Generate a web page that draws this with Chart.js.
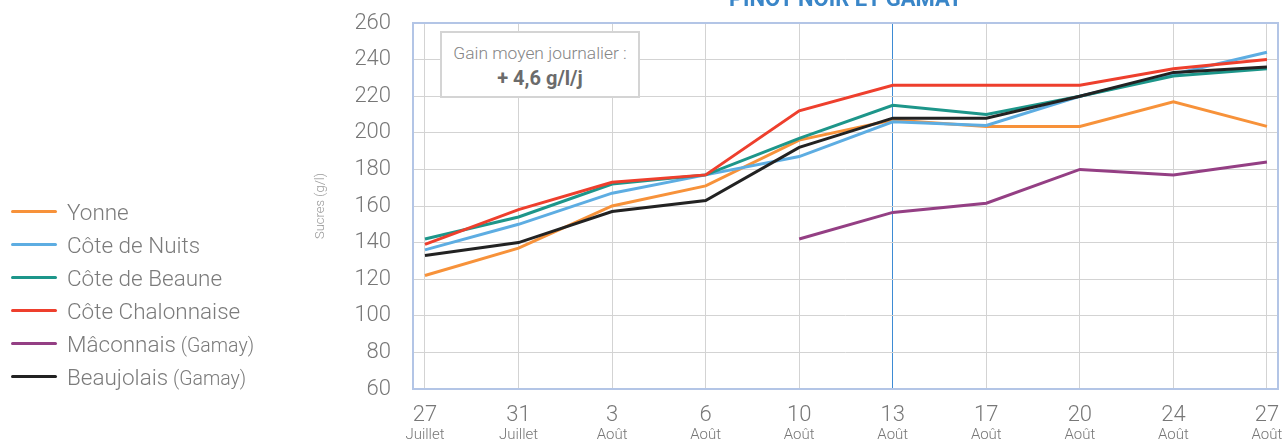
<!DOCTYPE html>
<html lang="fr">
<head>
<meta charset="utf-8">
<title>Pinot noir et Gamay – sucres</title>
<script src="https://cdn.jsdelivr.net/npm/chart.js@4.4.1/dist/chart.umd.min.js"></script>
<style>
  html, body { margin: 0; padding: 0; background: #fff; }
  body { width: 1283px; height: 441px; position: relative; overflow: hidden; font-family: Roboto, sans-serif; }
  #chart { position: absolute; left: 0; top: 0; }
  #title { position: absolute; left: 413px; width: 865px; top: -12px; text-align: center;
           font: 700 22px/22px Roboto, sans-serif; color: #3a86c8; white-space: nowrap; }
  #legend { position: absolute; left: 11px; top: 195px; }
  #legend .item { display: flex; align-items: center; height: 33px; }
  #legend .sw { width: 46px; height: 3px; border-radius: 2px; margin-right: 10px; flex: none; }
  #legend .lbl { font: 300 22.5px Roboto, sans-serif; color: #7b7b7b; white-space: nowrap; }
  #legend .lbl small { font-size: 19.5px; }
  #note { position: absolute; left: 440px; top: 31px; width: 196px; height: 63px;
          border: 2px solid #d4d4d4; background: #fff; text-align: center; }
  #note .l1 { margin-top: 10px; font: 300 17.4px/20px Roboto, sans-serif; color: #858585; }
  #note .l2 { margin-top: 5px; font: 700 20px/20px Roboto, sans-serif; color: #6b6b6b; }
</style>
</head>
<body>
<canvas id="chart" width="1283" height="441"></canvas>
<div id="title">PINOT NOIR ET GAMAY</div>
<div id="legend"></div>
<div id="note"><div class="l1">Gain moyen journalier :</div><div class="l2">+ 4,6 g/l/j</div></div>
<script>
// Dates de prélèvement
const dayLabels   = ['27', '31', '3', '6', '10', '13', '17', '20', '24', '27'];
const monthLabels = ['Juillet', 'Juillet', 'Août', 'Août', 'Août', 'Août', 'Août', 'Août', 'Août', 'Août'];

// Teneur en sucres (g/l) par secteur
const seriesNames  = ['Yonne', 'Côte de Nuits', 'Côte de Beaune', 'Côte Chalonnaise', 'Mâconnais (Gamay)', 'Beaujolais (Gamay)'];
const seriesColors = ['#f7923a', '#5dade2', '#1d968a', '#ee3f2d', '#943f84', '#222222'];
const yonne            = [122, 137, 160, 171, 196, 207, 203.5, 203.5, 217, 203.5];
const coteDeNuits      = [136, 150, 167, 177, 187, 206, 204, 220, 232, 244];
const coteDeBeaune     = [142, 154, 172, 177, 197, 215, 210, 220, 231, 235];
const coteChalonnaise  = [139, 158, 173, 177, 212, 226, 226, 226, 235, 240];
const maconnais        = [null, null, null, null, 142, 156.5, 161.5, 180, 177, 184];
const beaujolais       = [133, 140, 157, 163, 192, 208, 208, 220, 233, 236];
const seriesValues = [yonne, coteDeNuits, coteDeBeaune, coteChalonnaise, maconnais, beaujolais];

// Axe des sucres
const yMin = 60, yMax = 260, yStep = 20;
// Date mise en évidence (13 août)
const highlightedDay = 5;

const FONT = 'Roboto, sans-serif';
const GRID = '#d3d3d3';
const HIGHLIGHT = '#3d8bd4';
const TICK_COLOR = '#777777';

const datasets = seriesNames.map((name, i) => ({
  label: name,
  data: seriesValues[i].map((v, j) => ({ x: j, y: v })),
  borderColor: seriesColors[i],
  backgroundColor: seriesColors[i],
  borderWidth: 3,
  pointRadius: 0,
  pointHoverRadius: 0,
  tension: 0,
  fill: false,
  spanGaps: false,
  order: seriesNames.length - i
}));

const dayTicks = (scale) => { scale.ticks = dayLabels.map((_, i) => ({ value: i })); };
// Les libellés restent dans la marge : pas de réserve supplémentaire autour de la zone de tracé
const noSidePadding = (scale) => { scale.paddingLeft = 0; scale.paddingRight = 0; };

// Cadre du graphique
const plotFrame = {
  id: 'plotFrame',
  beforeDatasetsDraw(chart) {
    const { ctx, chartArea: a } = chart;
    ctx.save();
    ctx.strokeStyle = '#b3c5e6';
    ctx.lineWidth = 2;
    ctx.strokeRect(a.left, a.top, a.right - a.left, a.bottom - a.top);
    ctx.restore();
  }
};

// Légende HTML (texte entre parenthèses en plus petit)
const htmlLegend = {
  id: 'htmlLegend',
  afterUpdate(chart) {
    const box = document.getElementById('legend');
    box.innerHTML = '';
    chart.data.datasets.forEach(ds => {
      const m = ds.label.match(/^(.*?)(\s\(.*\))?$/);
      const item = document.createElement('div');
      item.className = 'item';
      const sw = document.createElement('span');
      sw.className = 'sw';
      sw.style.background = ds.borderColor;
      const lbl = document.createElement('span');
      lbl.className = 'lbl';
      lbl.textContent = m[1];
      if (m[2]) {
        const s = document.createElement('small');
        s.textContent = m[2];
        lbl.appendChild(s);
      }
      item.appendChild(sw);
      item.appendChild(lbl);
      box.appendChild(item);
    });
  }
};

new Chart(document.getElementById('chart'), {
  type: 'line',
  data: { datasets },
  options: {
    responsive: false,
    animation: false,
    events: [],
    layout: { padding: { top: 23, right: 5, bottom: 0, left: 313 } },
    plugins: {
      legend: { display: false },
      title: { display: false },
      tooltip: { enabled: false }
    },
    scales: {
      x: {
        type: 'linear',
        position: 'bottom',
        min: -0.128,
        max: 9.118,
        afterBuildTicks: dayTicks,
        afterFit(s) { s.height = 35; noSidePadding(s); },
        ticks: {
          autoSkip: false, maxRotation: 0, minRotation: 0, padding: 13,
          callback: v => dayLabels[v],
          font: { family: FONT, size: 22, weight: 300 },
          color: TICK_COLOR
        },
        grid: {
          drawTicks: false,
          lineWidth: 1,
          color: c => (c.tick && c.tick.value === highlightedDay) ? HIGHLIGHT : GRID
        },
        border: { display: false }
      },
      x2: {
        type: 'linear',
        position: 'bottom',
        min: -0.128,
        max: 9.118,
        afterBuildTicks: dayTicks,
        afterFit(s) { s.height = 17; noSidePadding(s); },
        ticks: {
          autoSkip: false, maxRotation: 0, minRotation: 0, padding: 2,
          callback: v => monthLabels[v],
          font: { family: FONT, size: 15, weight: 300 },
          color: TICK_COLOR
        },
        grid: { display: false, drawTicks: false },
        border: { display: false }
      },
      y: {
        min: yMin,
        max: yMax,
        afterFit(s) { s.width = 100; s.paddingTop = 0; s.paddingBottom = 0; },
        ticks: {
          stepSize: yStep,
          padding: 22,
          font: { family: FONT, size: 22, weight: 300 },
          color: TICK_COLOR
        },
        grid: { color: GRID, lineWidth: 1, drawTicks: false },
        border: { display: false },
        title: {
          display: true,
          text: 'Sucres (g/l)',
          font: { family: FONT, size: 13, weight: 300 },
          color: '#999999',
          padding: { top: 0, bottom: 0 }
        }
      }
    }
  },
  plugins: [plotFrame, htmlLegend]
});
</script>
</body>
</html>
